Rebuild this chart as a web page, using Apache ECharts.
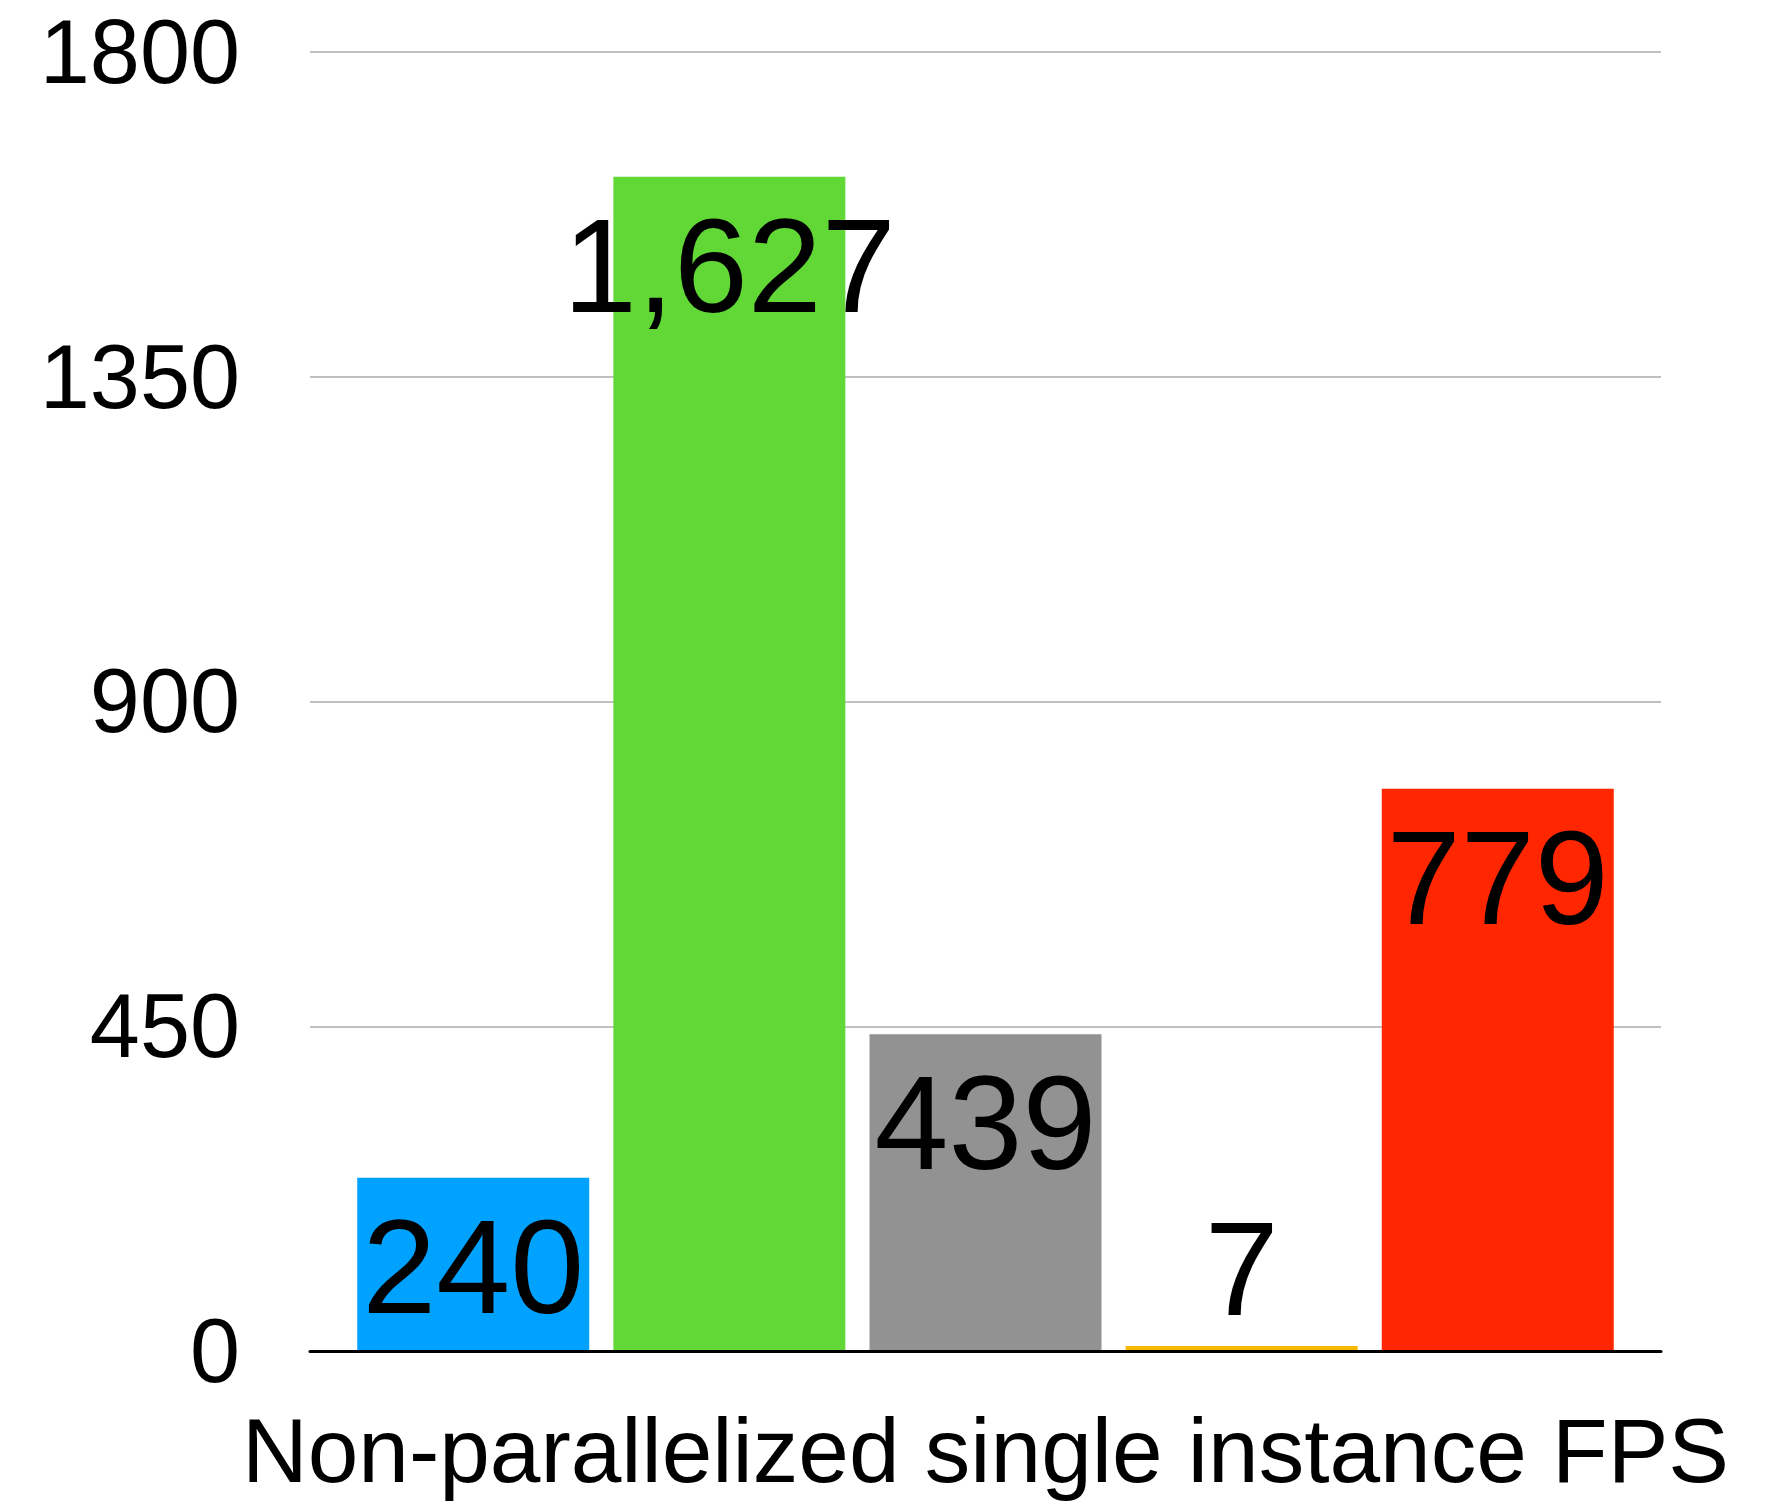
<!DOCTYPE html>
<html>
<head>
<meta charset="utf-8">
<script src="https://cdn.jsdelivr.net/npm/echarts@6/dist/echarts.min.js"></script>
<style>
  html, body { margin: 0; padding: 0; background: #ffffff; }
  #chart { width: 1779px; height: 1504px; }
</style>
</head>
<body>
<div id="chart"></div>
<script>
// Single benchmark group, one bar per implementation
const categories = ['Non-parallelized single instance FPS'];
const seriesNames = ['Impl 1', 'Impl 2', 'Impl 3', 'Impl 4', 'Impl 5'];
const seriesValues = [240, 1627, 439, 7, 779];
const seriesColors = ['#00A2FF', '#61D836', '#929292', '#F8BA00', '#FF2600'];
const yTicks = { min: 0, max: 1800, interval: 450 };

const FONT = '"Liberation Sans", Arial, Helvetica, sans-serif';

const chart = echarts.init(document.getElementById('chart'), null, { renderer: 'canvas' });

const series = seriesNames.map((name, i) => {
  const v = seriesValues[i];
  // very short bars get their value above the bar, others inside at the top
  const small = v < 100;
  return {
    name: name,
    type: 'bar',
    data: [v],
    barWidth: 232,
    barGap: '10.4%',
    itemStyle: { color: seriesColors[i] },
    label: {
      show: true,
      position: small ? 'top' : 'insideTop',
      distance: small ? 1 : 32,
      color: '#000000',
      fontFamily: FONT,
      fontSize: 133,
      formatter: p => Number(p.value).toLocaleString('en-US')
    },
    z: 2
  };
});

chart.setOption({
  backgroundColor: '#ffffff',
  animation: false,
  grid: { left: 310, right: 118, top: 52, bottom: 153 },
  xAxis: {
    type: 'category',
    data: categories,
    axisLine: { show: true, lineStyle: { color: '#000000', width: 3 } },
    axisTick: { show: false },
    axisLabel: {
      color: '#000000',
      fontFamily: FONT,
      fontSize: 91,
      margin: 60
    },
    z: 5
  },
  yAxis: {
    type: 'value',
    min: yTicks.min,
    max: yTicks.max,
    interval: yTicks.interval,
    axisLine: { show: false },
    axisTick: { show: false },
    splitLine: { show: true, lineStyle: { color: '#c0c0c0', width: 2 } },
    axisLabel: {
      color: '#000000',
      fontFamily: FONT,
      fontSize: 90,
      margin: 70,
      verticalAlign: 'top',
      lineHeight: 12,
      formatter: v => String(v)
    }
  },
  series: series
});
</script>
</body>
</html>
